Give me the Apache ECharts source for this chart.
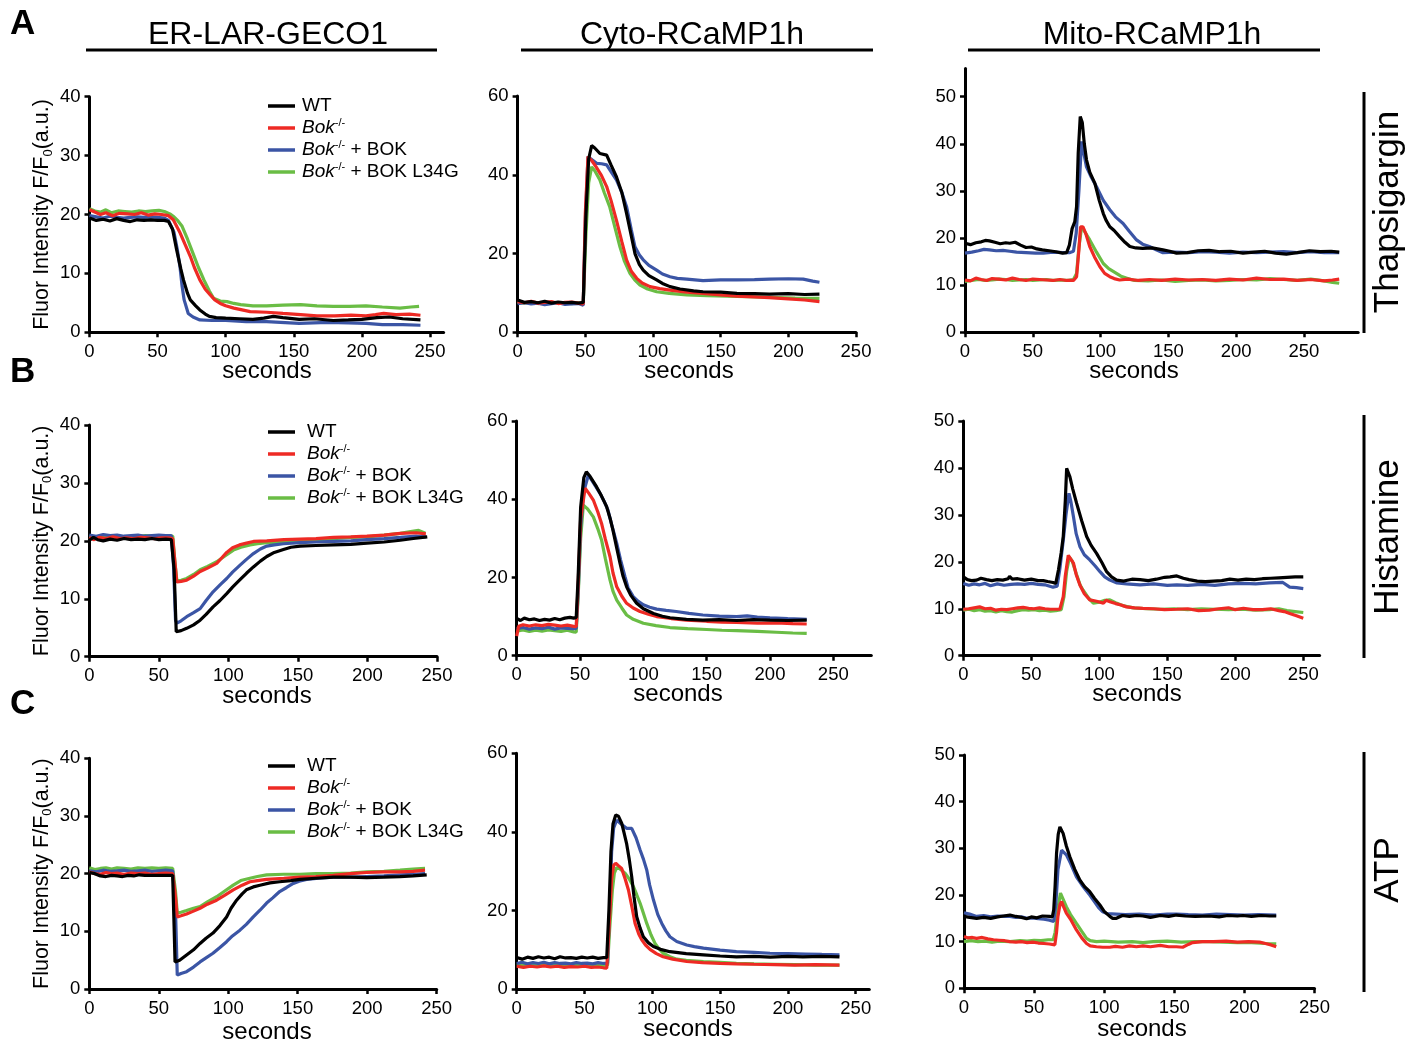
<!DOCTYPE html>
<html><head><meta charset="utf-8">
<script src="https://cdn.jsdelivr.net/npm/echarts@6/dist/echarts.min.js"></script>
<style>html,body{margin:0;padding:0;background:#fff}#c{width:1417px;height:1043px}</style>
</head><body><div id="c"></div>
<script>
// ---------- categories / labels ----------
const seriesNames = ['WT', 'Bok-/-', 'Bok-/- + BOK', 'Bok-/- + BOK L34G'];
const columnTitles = ['ER-LAR-GECO1', 'Cyto-RCaMP1h', 'Mito-RCaMP1h'];
const rowTitles = ['Thapsigargin', 'Histamine', 'ATP'];
const panelLetters = ['A', 'B', 'C'];
const xTicks = [0, 50, 100, 150, 200, 250];
const yTicks40 = [0, 10, 20, 30, 40];
const yTicks60 = [0, 20, 40, 60];
const yTicks50 = [0, 10, 20, 30, 40, 50];

// ---------- A: Thapsigargin ----------
const erTg_WT = [[0,19.4],[5,19.0],[10,19.2],[15,18.9],[20,19.3],[25,19.0],[30,18.8],[35,19.1],[40,19.0],[45,19.1],[50,19.0],[55,19.0],[58,18.8],[61,17.5],[64,14.0],[67,10.8],[69,8.9],[72,6.6],[74,5.5],[78,4.5],[81,3.8],[85,3.1],[88,2.7],[93,2.5],[100,2.4],[110,2.3],[120,2.2],[128,2.4],[135,2.7],[142,2.5],[154,2.2],[165,2.3],[179,2.0],[190,2.1],[200,2.2],[211,2.5],[220,2.6],[230,2.3],[243,2.1]];
const erTg_Bok = [[0,20.8],[3,20.5],[8,20.0],[12,20.3],[17,19.8],[22,20.2],[28,20.1],[33,20.0],[38,20.3],[43,19.9],[48,20.1],[53,20.0],[58,19.8],[61.5,19.1],[64,18.0],[66.5,16.9],[70,15.0],[74,12.9],[77,11.0],[81,8.9],[85,7.3],[88.5,6.4],[92,5.5],[96,4.9],[100,4.5],[106,4.1],[112,3.8],[118,3.5],[130,3.4],[142,3.2],[155,3.0],[167,2.8],[180,2.8],[192,2.9],[203,2.8],[210,3.0],[216,3.2],[225,3.0],[235,3.1],[243,2.9]];
const erTg_BOK = [[0,19.8],[5,19.6],[10,19.4],[15,19.7],[20,19.5],[25,19.4],[30,19.5],[35,19.6],[40,19.5],[45,19.6],[50,19.5],[55,19.4],[58,19.0],[62,17.0],[64.5,14.0],[66.5,11.0],[68,7.8],[69.5,5.5],[72.5,3.2],[76,2.6],[81,2.1],[90,2.0],[100,2.0],[115,1.8],[130,1.8],[154,1.5],[175,1.7],[190,1.6],[203,1.5],[215,1.3],[230,1.3],[243,1.2]];
const erTg_L34G = [[0,21.0],[4,20.6],[8,20.4],[12,20.8],[16,20.3],[21,20.6],[26,20.5],[31,20.4],[36,20.6],[41,20.5],[46,20.6],[51,20.7],[55,20.5],[59,20.1],[62,19.6],[65,18.9],[68,18.0],[72,15.8],[76,13.4],[80,11.0],[84,8.9],[88,7.0],[91,5.8],[96,5.3],[101,5.2],[106,4.9],[111,4.7],[120,4.5],[130,4.5],[142,4.6],[155,4.7],[167,4.5],[179,4.4],[191,4.4],[203,4.5],[215,4.3],[228,4.1],[236,4.3],[242,4.4]];

const cyTg_WT = [[0,8.2],[5,7.6],[10,7.8],[15,7.5],[20,7.9],[25,7.4],[30,7.7],[35,7.5],[40,7.6],[45,7.4],[48.5,7.6],[50.5,30],[52.5,44],[54.7,47.4],[57,46.8],[60.8,45.4],[65.8,45.0],[69,42.5],[73,39.5],[77,35.5],[80.5,30.2],[84,24.5],[86.7,20.0],[90,17.2],[92.8,15.8],[97,14.4],[102.7,13.3],[107,12.4],[112.6,11.6],[120,11.0],[130,10.5],[137,10.3],[150,10.2],[162,9.9],[175,9.8],[186,9.7],[200,9.8],[212,9.6],[223,9.7]];
const cyTg_Bok = [[0,7.8],[5,7.5],[10,7.9],[15,7.4],[20,7.6],[25,7.8],[30,7.3],[35,7.6],[40,7.7],[45,7.4],[48.5,7.2],[50,30],[52,44.6],[55,43.5],[58,42.0],[62,39.8],[65.8,37.0],[69,33.5],[73,28.5],[77,23.0],[80.5,18.4],[84,15.5],[88,13.7],[92,12.5],[97.8,11.6],[105,11.1],[112.6,10.7],[125,10.2],[137,9.9],[150,9.5],[162,9.2],[175,9.0],[186,8.8],[200,8.5],[212,8.2],[223,7.8]];
const cyTg_BOK = [[0,7.3],[5,7.5],[10,7.2],[15,7.4],[20,7.0],[25,7.3],[30,7.5],[35,7.1],[40,7.2],[45,7.3],[48.5,6.9],[50,28],[52,44.6],[55,43.8],[58.4,42.9],[62,42.8],[65.8,42.5],[69,40.8],[73,38.7],[77,35.5],[80.5,31.9],[84,26.0],[86.7,21.7],[90,19.6],[92.8,18.4],[97,17.0],[102.7,15.8],[107,14.8],[112.6,14.1],[118,13.7],[125,13.5],[137,13.1],[150,13.3],[162,13.3],[175,13.4],[186,13.5],[200,13.6],[211,13.5],[218,13.0],[223,12.7]];
const cyTg_L34G = [[0,7.6],[5,7.4],[10,7.7],[15,7.3],[20,7.5],[25,7.6],[30,7.4],[35,7.5],[40,7.3],[45,7.5],[48.5,7.2],[50.5,25],[52.5,38],[54.7,42.0],[57,41.0],[60.8,38.7],[64,35.5],[68,31.9],[72,26.5],[75.6,21.7],[79,18.0],[83,15.0],[86.5,13.3],[90.4,12.0],[96,11.0],[102.7,10.3],[112,9.9],[125,9.5],[140,9.3],[162,9.1],[185,8.9],[205,8.7],[223,8.6]];

const miTg_WT = [[0,18.9],[4,18.6],[8,19.0],[12,19.2],[15,19.5],[18,19.4],[22,19.1],[26,18.8],[30,19.0],[33,18.9],[37,19.1],[41,18.5],[45,18.0],[49,18.1],[53,17.7],[57,17.5],[62,17.3],[67,17.1],[72,16.8],[75,16.9],[77,18.5],[79,22.0],[81,23.5],[82.3,26.7],[83.5,38],[85,45.8],[86.5,44.5],[88,40],[89.6,36.6],[92,34.0],[95.8,31.6],[99,28.0],[102,25.2],[104,23.8],[106.8,22.4],[110,21.6],[114,20.3],[118,19.1],[121.6,18.2],[126,17.9],[131,17.8],[138,17.9],[146,17.5],[151,17.2],[156,16.8],[164,16.9],[172,17.3],[180,17.4],[188,17.1],[196,17.2],[205,16.8],[213,17.0],[221,17.2],[229,16.8],[237,16.6],[245,16.9],[254,17.3],[262,17.1],[270,17.2],[276,17.0]];
const miTg_Bok = [[0,11.1],[4,10.9],[8,11.5],[12,11.2],[16,11.0],[20,11.4],[25,11.3],[30,11.1],[35,11.5],[40,11.2],[45,11.0],[50,11.3],[55,11.2],[60,11.1],[65,11.0],[70,11.2],[75,11.0],[80,11.0],[82.3,11.8],[84,17.5],[85.2,22.4],[87,22.4],[89,21.0],[92,18.2],[95.5,16.0],[99.5,13.9],[103,12.5],[106.8,11.8],[110,11.4],[114,11.1],[120,11.3],[128,11.0],[136,11.2],[145,11.0],[155,11.3],[165,11.1],[175,11.2],[185,11.0],[195,11.3],[205,11.1],[215,11.5],[225,11.2],[235,11.3],[245,11.0],[255,11.2],[265,10.9],[271,11.1],[276,11.3]];
const miTg_BOK = [[0,16.8],[5,17.0],[10,17.3],[14,17.6],[18,17.5],[23,17.3],[28,17.4],[33,17.2],[38,17.0],[45,16.9],[52,16.8],[57.7,16.8],[65,17.0],[72,16.9],[77,16.9],[80,17.2],[82,21.0],[84,30],[86,40.5],[88,37.5],[89.6,35.1],[93,33.0],[97,30.9],[102,28.0],[106.8,26.0],[111,24.5],[116.6,23.1],[121,21.5],[126.5,19.6],[131,18.7],[136,18.2],[141,17.5],[146,16.9],[155,17.0],[165,16.9],[175,17.1],[185,17.0],[195,16.8],[205,17.0],[215,16.9],[225,17.0],[235,17.1],[245,16.9],[255,17.1],[265,16.9],[276,16.9]];
const miTg_L34G = [[0,10.8],[5,11.0],[10,11.2],[15,11.0],[20,11.1],[25,11.3],[30,11.2],[35,11.0],[40,11.1],[45,11.2],[50,11.0],[55,11.1],[60,11.2],[65,11.0],[70,11.1],[75,11.0],[80,11.2],[82.3,12.5],[84,18.0],[86,22.4],[88,21.5],[92,19.6],[97,17.0],[102,14.6],[106,13.5],[111.7,12.5],[115,11.9],[119,11.5],[125,11.0],[135,10.9],[145,11.1],[155,10.8],[165,11.0],[175,11.1],[185,10.9],[195,11.0],[205,11.2],[215,11.1],[225,11.4],[235,11.2],[245,11.0],[255,11.3],[265,10.9],[271,10.6],[276,10.4]];

// ---------- B: Histamine ----------
const erHi_WT = [[0,20.1],[3,20.6],[6,20.2],[10,20.0],[15,20.3],[20,20.1],[25,20.4],[30,20.2],[35,20.3],[40,20.2],[45,20.4],[50,20.2],[55,20.3],[59,20.2],[61,15.0],[62.5,4.3],[66,4.5],[70,4.9],[75,5.5],[79.7,6.3],[84,7.3],[89,8.6],[94,9.7],[98.8,10.9],[103,12.0],[108,13.2],[113,14.4],[118,15.5],[123,16.5],[127.6,17.3],[133,18.0],[139.6,18.5],[145,18.9],[151.6,19.1],[163,19.2],[175.6,19.3],[188,19.4],[199.6,19.6],[212,19.8],[223.6,20.1],[233,20.4],[243,20.7]];
const erHi_Bok = [[0,20.6],[3,20.2],[7,20.6],[12,20.4],[17,20.7],[22,20.4],[27,20.5],[32,20.4],[37,20.6],[42,20.5],[47,20.4],[52,20.5],[57,20.5],[60,20.4],[61.5,16.5],[62.9,12.9],[66,13.0],[70,13.2],[75,13.9],[79.7,14.7],[85,15.3],[91.6,16.1],[95,17.0],[98.8,18.0],[103,18.8],[108,19.3],[113,19.6],[118,19.9],[127.6,20.0],[140,20.2],[151.6,20.3],[163,20.4],[175.6,20.6],[188,20.7],[199.6,20.8],[212,21.0],[223.6,21.3],[235,21.4],[242,21.2]];
const erHi_BOK = [[0,21.0],[5,20.8],[10,21.1],[15,20.9],[20,21.0],[25,20.8],[30,20.9],[35,21.0],[40,20.8],[45,20.9],[50,21.0],[55,20.9],[59,20.9],[60.5,16.0],[62,6.3],[63,5.8],[66,6.2],[70,6.9],[75,7.6],[79.7,8.3],[84,9.7],[89,11.2],[94,12.4],[98.8,13.5],[103,14.6],[108.4,15.8],[113,16.8],[118,17.8],[123,18.6],[127.6,19.1],[133,19.3],[139.6,19.5],[151.6,19.7],[163,19.8],[175.6,19.9],[188,20.0],[199.6,20.2],[212,20.4],[223.6,20.6],[235,20.8],[242,20.7]];
const erHi_L34G = [[0,20.8],[5,20.6],[10,20.9],[15,20.7],[20,20.8],[25,20.6],[30,20.8],[35,20.7],[40,20.9],[45,20.8],[50,20.7],[55,20.8],[60,20.8],[61.5,16.5],[63,13.0],[66,13.2],[70,13.5],[75,14.2],[79.7,15.0],[85,15.6],[91.6,16.4],[97,17.3],[103.6,18.4],[109,18.9],[115.6,19.3],[121,19.5],[127.6,19.7],[140,19.8],[151.6,19.9],[163,20.1],[175.6,20.4],[188,20.6],[199.6,20.7],[212,21.0],[223.6,21.3],[231,21.6],[236.8,21.8],[241.6,21.3]];

const cyHi_WT = [[0,9.5],[3,9.0],[6,9.6],[10,9.2],[14,9.4],[18,9.0],[22,9.3],[26,9.1],[30,9.5],[34,9.2],[38,9.6],[42,9.8],[45,9.6],[47,9.8],[48.5,20],[50.5,38],[53,45.5],[55,47.0],[58,45.8],[63,43.2],[67,40.8],[71,38.1],[74,34.8],[76,32.1],[79,27.5],[81.6,23.6],[84,20.3],[86.8,17.6],[90,15.5],[94.7,13.4],[100,12.0],[108,10.8],[115,10.1],[121,9.7],[134,9.3],[147,9.1],[160,9.2],[173.7,9.0],[187,9.2],[200,9.1],[214,9.0],[229,9.1]];
const cyHi_Bok = [[0,5.0],[1.5,7.5],[5,7.9],[10,7.6],[15,7.9],[20,7.7],[25,8.0],[30,7.8],[35,7.6],[40,7.8],[45,7.5],[47,7.4],[48.5,18],[50.5,35],[54,42.8],[57,41.5],[60.5,39.8],[64,36.8],[67,33.8],[70,29.8],[73.7,25.3],[76,21.2],[79,17.6],[83,15.2],[86.8,13.4],[92,12.2],[97.4,11.3],[104,10.6],[110.5,10.0],[122,9.5],[134,9.1],[150,8.8],[162,8.6],[173.7,8.5],[190,8.3],[205,8.4],[218,8.2],[229,8.1]];
const cyHi_BOK = [[0,6.9],[5,7.2],[10,6.8],[15,7.1],[20,6.9],[25,7.3],[30,6.8],[35,7.1],[40,7.0],[45,6.9],[47,7.0],[48.5,16],[50.5,33],[53,42],[56.6,46.2],[60,44.5],[65.8,41.5],[69,39.5],[72,37.3],[75,33.5],[79,28.7],[82,24.5],[85.5,20.2],[88,17.3],[92,15.1],[96,13.9],[100,13.0],[105,12.4],[110.5,11.9],[118,11.6],[126,11.3],[136,10.8],[147,10.4],[160,10.1],[173.7,10.0],[182,10.2],[190,9.9],[200,9.7],[214,9.5],[229,9.3]];
const cyHi_L34G = [[0,6.3],[5,6.6],[10,6.2],[15,6.5],[20,6.3],[25,6.6],[30,6.4],[35,6.2],[40,6.5],[45,6.1],[47,6.0],[48.5,15],[50.5,30],[52.6,38.5],[56,37.5],[60.5,35.5],[64,32.5],[67,29.6],[70,24.8],[73.7,19.3],[76,16.5],[79,14.2],[83,12.2],[86.8,10.4],[92,9.3],[100,8.3],[110,7.7],[121,7.2],[135,6.9],[150,6.7],[162,6.5],[173.7,6.4],[190,6.2],[205,6.0],[218,5.8],[229,5.7]];

const miHi_WT = [[0,16.8],[3,16.2],[6,16.0],[9.8,16.1],[13,16.5],[17,16.2],[21,16.0],[25,16.2],[29,16.1],[33,16.4],[34,16.9],[36,16.3],[40,16.4],[45,16.1],[50,16.3],[55,16.0],[58.8,16.0],[62,15.8],[66,15.6],[68,15.4],[70,18.3],[72,22.0],[73.5,25.4],[75,33],[76,39.9],[77,40.3],[78.4,38.1],[80.5,35.5],[83.3,32.5],[87,28.8],[90.7,25.4],[94,23.5],[98,21.8],[102,19.8],[105.4,17.9],[109,16.8],[112.7,16.1],[118,15.9],[124,16.3],[130,16.2],[136,16.0],[142,16.3],[148,16.7],[152,16.8],[157,17.0],[161.8,16.5],[166,16.2],[172,15.9],[178,15.8],[184,15.9],[190,16.0],[196,16.3],[202,16.1],[208,16.3],[214,16.2],[220,16.4],[226,16.5],[232,16.6],[238,16.7],[244,16.8],[250,16.8]];
const miHi_Bok = [[0,9.9],[4,10.0],[8,10.2],[12,10.4],[16,10.0],[20,10.1],[24,9.7],[28,9.9],[32,9.8],[36,10.0],[40,10.2],[44,10.3],[48,10.1],[52,10.0],[56,10.2],[60,10.0],[64,9.9],[68,9.9],[71,9.9],[73.5,12.6],[75,17],[77.2,21.4],[78.5,21.5],[81,19.7],[83,17.3],[85.8,15.0],[89,13.2],[93,11.9],[98,11.6],[103,11.2],[105,11.8],[107.8,11.5],[112,11.1],[116,10.8],[120,10.4],[126,10.2],[132,10.1],[140,10.0],[148,9.8],[157,9.9],[165,10.0],[173,9.6],[181,9.7],[188,10.0],[195,10.2],[200,9.8],[206,10.1],[213,9.8],[220,9.8],[226,10.0],[232,9.6],[236,9.4],[240,9.0],[245,8.5],[250,8.0]];
const miHi_BOK = [[0,15.4],[4,15.0],[8,15.3],[12,15.1],[16,15.4],[20,14.9],[25,15.3],[30,15.0],[35,15.2],[40,15.3],[45,15.2],[50,15.4],[55,15.2],[60,15.1],[66,14.6],[69,14.8],[71,18.5],[73.5,24.6],[75.5,30.0],[77.7,34.6],[79,33.0],[81,29.6],[83,26.0],[85.8,23.2],[89,21.5],[93,20.4],[97,19.1],[100.5,17.9],[104,16.8],[107.8,16.1],[113,15.5],[120,15.3],[130,15.1],[140,15.3],[150,15.0],[157,15.1],[165,15.0],[175,15.2],[185,15.0],[195,15.3],[206,15.4],[215,15.3],[225,15.5],[235,15.6],[240,14.6],[245,14.5],[250,14.3]];
const miHi_L34G = [[0,9.7],[4,9.9],[8,9.6],[12,9.8],[16,9.5],[20,9.6],[24,9.3],[28,9.6],[32,9.4],[36,9.3],[40,9.6],[44,9.8],[48,9.7],[52,9.8],[56,9.6],[60,9.7],[64,9.5],[68,9.6],[72,9.8],[74,12.5],[76,18],[78,21.0],[80,20.2],[83,17.5],[86,15.0],[88,14.0],[92,12.3],[95.6,11.2],[100,11.4],[104,11.8],[107.8,11.9],[112,11.3],[118,10.6],[125,10.2],[135,10.0],[145,9.9],[155,10.0],[165,9.8],[175,10.0],[185,9.9],[195,9.8],[205,9.9],[215,9.7],[225,9.8],[232,10.0],[238,9.6],[244,9.4],[250,9.2]];

// ---------- C: ATP ----------
const erAt_WT = [[0,20.2],[4,20.0],[8,19.6],[12,19.5],[16,19.7],[20,19.6],[24,19.5],[28,19.7],[32,19.6],[36,19.8],[40,19.7],[45,19.7],[50,19.7],[55,19.7],[60,19.7],[61,11.0],[61.7,4.7],[65,5.0],[70,5.9],[75,6.8],[79.7,7.9],[84,8.8],[89,9.7],[94,11.0],[98.8,12.5],[102,14.0],[106,15.4],[110,16.5],[113,17.2],[118,17.7],[122.8,18.0],[130,18.4],[137,18.6],[145,18.8],[151.6,19.0],[163,19.2],[175.6,19.4],[188,19.4],[199.6,19.3],[212,19.4],[223.6,19.5],[233,19.6],[242.8,19.8]];
const erAt_Bok = [[0,20.3],[4,20.0],[8,19.9],[12,20.2],[16,20.0],[20,20.1],[25,19.9],[30,20.1],[35,20.0],[40,20.1],[45,19.9],[50,20.0],[55,20.1],[60,20.0],[62,16.0],[63.3,12.5],[66,12.7],[70,13.0],[75,13.5],[79.7,14.0],[85,14.7],[91.6,15.4],[97,16.2],[103.6,17.2],[110,18.0],[115.6,18.6],[121,18.8],[127.6,19.0],[140,19.2],[151.6,19.4],[163,19.5],[175.6,19.7],[188,20.0],[199.6,20.2],[212,20.3],[223.6,20.3],[233,20.4],[241.6,20.6]];
const erAt_BOK = [[0,20.5],[5,20.3],[10,20.6],[15,20.4],[20,20.5],[25,20.6],[30,20.4],[35,20.5],[40,20.6],[45,20.4],[50,20.5],[55,20.6],[60,20.5],[62,14.0],[63.3,2.4],[66,2.7],[70,3.0],[75,3.8],[79.7,4.7],[84,5.4],[89,6.2],[94,7.2],[98.8,8.2],[103,9.2],[108.4,10.2],[113,11.2],[118,12.5],[123,13.7],[127.6,14.9],[132,15.8],[137,16.9],[142,17.6],[146.8,18.3],[151,18.7],[156.4,19.0],[165,19.2],[175.6,19.4],[188,19.4],[199.6,19.5],[212,19.6],[223.6,19.8],[233,19.9],[241.6,20.0]];
const erAt_L34G = [[0,21.0],[4,20.7],[8,20.9],[12,21.0],[16,20.8],[20,21.0],[25,20.9],[30,20.8],[35,21.0],[40,20.9],[45,21.0],[50,20.9],[55,21.0],[60,20.9],[62,17.0],[63.3,13.2],[66,13.3],[70,13.6],[75,14.0],[79.7,14.3],[85,15.1],[91.6,16.0],[97,16.9],[103.6,18.0],[109,18.8],[115.6,19.2],[121,19.5],[127.6,19.8],[140,19.9],[151.6,19.9],[163,20.0],[175.6,20.0],[188,20.1],[199.6,20.3],[212,20.4],[223.6,20.6],[233,20.8],[241.6,20.9]];

const cyAt_WT = [[0,8.0],[4,7.6],[8,8.1],[12,7.8],[16,8.2],[20,7.9],[24,8.1],[28,7.7],[32,8.2],[36,7.9],[40,8.0],[44,7.8],[48,8.1],[52,7.9],[56,8.1],[60,7.8],[64,8.0],[66.4,8.0],[68,20],[69.5,35],[71,42],[73,44.3],[75,44.0],[77.4,42.2],[79,40.0],[81,37.1],[83,33.0],[84.8,28.6],[86.5,23.5],[88.5,18.4],[91,15.5],[93.4,13.3],[97,11.8],[100.8,10.8],[106,10.1],[113,9.5],[125,9.0],[137.7,8.7],[150,8.4],[162,8.2],[175,8.3],[187,8.1],[200,8.3],[211,8.2],[225,8.3],[238,8.2]];
const cyAt_Bok = [[0,5.8],[5,5.5],[10,5.8],[15,5.6],[20,5.9],[25,5.6],[30,5.8],[35,5.5],[40,5.7],[45,5.6],[50,5.8],[55,5.5],[60,5.6],[64,5.4],[66.4,5.3],[68,15],[70,28],[71.5,31.5],[73,32.0],[75,31.4],[77.4,30.7],[80,28.0],[82.4,25.2],[85,20.8],[87.3,16.7],[90,14.0],[92.2,12.5],[95,11.2],[98.3,10.1],[103,9.0],[108,8.2],[115,7.6],[125.4,7.0],[137,6.7],[150,6.5],[162,6.4],[175,6.3],[190,6.2],[205,6.1],[220,6.2],[238,6.1]];
const cyAt_BOK = [[0,6.5],[4,6.8],[8,6.4],[12,6.7],[16,6.5],[20,6.8],[24,6.4],[28,6.7],[32,6.5],[36,6.6],[40,6.4],[44,6.7],[48,6.5],[52,6.6],[56,6.4],[60,6.7],[64,6.5],[67,6.6],[68.5,20],[70,35],[71.5,41],[73.7,43.0],[77,42.0],[81,40.9],[84.8,40.9],[88,38.5],[91,35.4],[93.5,33.0],[95.9,30.3],[98,26.5],[100.8,22.7],[104,19.0],[107,16.7],[110,14.8],[113,13.3],[118,12.1],[125.4,11.2],[131,10.8],[137.7,10.4],[150,9.9],[162,9.5],[175,9.3],[186.8,9.1],[200,9.0],[213,8.9],[225,8.8],[238,8.7]];
const cyAt_L34G = [[0,6.1],[5,6.3],[10,6.0],[15,6.2],[20,6.0],[25,6.3],[30,6.1],[35,6.2],[40,6.0],[45,6.2],[50,6.1],[55,6.0],[60,6.2],[64,6.0],[67,6.1],[68.5,15],[70.5,25],[72,29.5],[73.7,30.9],[76,30.6],[79.9,29.5],[83,28.0],[86,26.1],[88.5,24.0],[91,21.8],[93.5,19.2],[95.9,16.7],[99,13.8],[102,11.6],[105,10.2],[108,9.1],[113,8.2],[118,7.6],[125,7.3],[137.7,7.0],[150,6.8],[162,6.5],[175,6.4],[190,6.3],[205,6.2],[220,6.1],[238,6.1]];

const miAt_WT = [[0,15.4],[4,15.2],[9,15.0],[14,15.2],[19,15.0],[24,15.3],[28,15.5],[32.8,15.7],[37,15.4],[41,15.2],[44.6,14.9],[48,15.3],[52,15.1],[56,15.5],[61,15.4],[63,15.3],[64,16.8],[65,22],[66,28.9],[67.2,33],[68.4,34.6],[70.7,33.2],[73,30.5],[75.5,28.2],[79,25.5],[82.6,23.2],[86,21.8],[89.7,20.7],[93,19.3],[96.8,17.9],[100,16.5],[104,15.4],[106,15.0],[108.7,15.0],[113,15.6],[118,15.4],[123,15.6],[127.7,15.5],[133,15.2],[140,15.6],[146,15.4],[151.5,15.7],[158,15.5],[165,15.4],[175,15.5],[182,15.3],[188,15.6],[195,15.5],[199,15.6],[205,15.4],[212,15.6],[218,15.5],[222.7,15.5]];
const miAt_Bok = [[0,11.1],[3,10.8],[6,10.9],[9,10.7],[13,10.9],[17,10.6],[21,10.4],[25,10.3],[29,10.2],[32.8,10.0],[37,9.9],[41,10.0],[45,9.8],[49,9.9],[53,9.7],[57,9.6],[61,9.5],[64.8,9.3],[66,12],[67,15.4],[68.5,18.0],[69.6,18.6],[71,17.5],[73,16.1],[76,14.8],[80.2,12.5],[84,10.8],[87.4,9.6],[90,9.1],[94.5,8.9],[99,8.8],[104,8.8],[108,9.0],[113,8.8],[118,9.1],[123,8.9],[127.7,9.1],[133,8.9],[140,9.2],[146,8.9],[151.5,8.9],[156,8.8],[160,9.4],[163,9.8],[170,10.0],[178,10.0],[187,10.1],[195,9.9],[203,10.0],[210.8,9.9],[215,9.6],[219,9.3],[222.7,8.9]];
const miAt_BOK = [[0,16.2],[4,15.9],[9,15.4],[14,15.6],[19,15.3],[24,15.5],[28,15.4],[32.8,15.4],[37,15.2],[41,15.3],[45,15.0],[49,15.1],[53,14.9],[57,14.8],[61,14.6],[64,14.3],[65.5,18],[67,25.4],[69.6,29.6],[71,29.3],[73,28.6],[76,26.8],[80.2,23.9],[84,22.2],[87,21.0],[89.7,20.0],[93,18.6],[96,17.3],[99,16.4],[102,16.0],[108.7,15.9],[115,15.8],[125,15.9],[135,15.7],[145,15.9],[151.5,15.9],[160,15.8],[170,15.7],[180,15.9],[190,15.8],[200,15.7],[210,15.8],[222.7,15.7]];
const miAt_L34G = [[0,10.0],[5,10.2],[10,10.0],[15,10.1],[20,9.9],[25,10.1],[32.8,10.0],[40,10.2],[45,10.1],[50,10.3],[55,10.2],[60,10.4],[63.6,10.4],[65,12],[66,14.6],[67.5,18],[68.8,20.4],[70,20.0],[73,17.5],[76,15.8],[80.2,13.9],[84,12.2],[87.4,10.7],[90,10.2],[94.5,10.0],[100,10.1],[110,9.9],[120,10.0],[127.7,9.8],[135,10.0],[145,10.1],[155,9.9],[165,10.0],[175,10.0],[185,9.9],[195,9.8],[205,9.8],[215,9.6],[222.7,9.5]];

// ---------- styling / layout ----------
const FONT = '"Liberation Sans", Arial, Helvetica, sans-serif';
const colors = {'WT': '#000000', 'Bok-/-': '#ee2a24', 'Bok-/- + BOK': '#3b55a5', 'Bok-/- + BOK L34G': '#6abd45'};
const drawOrder = [3, 2, 1, 0]; // L34G, BOK, Bok, WT (WT on top)

const panels = [
  {left: 89.5, top: 96.7, width: 354.1, height: 235.6, xMax: 260, yMax: 40, yTicks: yTicks40, yInt: 10, data: [erTg_WT, erTg_Bok, erTg_BOK, erTg_L34G], yName: true, sec: [267, 371]},
  {left: 517.6, top: 96.0, width: 338.4, height: 236.3, xMax: 250, yMax: 60, yTicks: yTicks60, yInt: 20, data: [cyTg_WT, cyTg_Bok, cyTg_BOK, cyTg_L34G], sec: [689, 371]},
  {left: 965, top: 68.4, width: 393.2, height: 263.9, xMax: 290, yMax: 56, yTicks: yTicks50, yInt: 10, data: [miTg_WT, miTg_Bok, miTg_BOK, miTg_L34G], sec: [1134, 371]},
  {left: 89.3, top: 425, width: 347.7, height: 231.7, xMax: 250, yMax: 40, yTicks: yTicks40, yInt: 10, data: [erHi_WT, erHi_Bok, erHi_BOK, erHi_L34G], yName: true, sec: [267, 696]},
  {left: 516.7, top: 421, width: 354.6, height: 234.7, xMax: 280, yMax: 60, yTicks: yTicks60, yInt: 20, data: [cyHi_WT, cyHi_Bok, cyHi_BOK, cyHi_L34G], sec: [678, 694]},
  {left: 963.3, top: 421, width: 356.3, height: 234.7, xMax: 262, yMax: 50, yTicks: yTicks50, yInt: 10, data: [miHi_WT, miHi_Bok, miHi_BOK, miHi_L34G], sec: [1137, 694]},
  {left: 89.3, top: 758.3, width: 347.4, height: 230.7, xMax: 250, yMax: 40, yTicks: yTicks40, yInt: 10, data: [erAt_WT, erAt_Bok, erAt_BOK, erAt_L34G], yName: true, sec: [267, 1032]},
  {left: 516.7, top: 753.3, width: 352.6, height: 235.7, xMax: 260, yMax: 60, yTicks: yTicks60, yInt: 20, data: [cyAt_WT, cyAt_Bok, cyAt_BOK, cyAt_L34G], sec: [688, 1029]},
  {left: 964, top: 755, width: 350.5, height: 233.3, xMax: 250, yMax: 50, yTicks: yTicks50, yInt: 10, data: [miAt_WT, miAt_Bok, miAt_BOK, miAt_L34G], sec: [1142, 1029]}
];

const axisLineStyle = {show: true, onZero: false, lineStyle: {color: '#000', width: 3}};
const labelStyle = {fontSize: 18.5, color: '#000', fontFamily: FONT};

const grids = [], xAxes = [], yAxes = [], series = [], graphics = [];
panels.forEach((p, i) => {
  grids.push({left: p.left, top: p.top, width: p.width, height: p.height, containLabel: false, outerBoundsMode: 'none'});
  xAxes.push({
    type: 'value', gridIndex: i, min: 0, max: p.xMax, interval: 50,
    axisLine: axisLineStyle,
    axisTick: {show: true, length: 5, lineStyle: {color: '#000', width: 2.5}, customValues: xTicks},
    axisLabel: Object.assign({margin: 10, customValues: xTicks}, labelStyle),
    splitLine: {show: false}
  });
  const y = {
    type: 'value', gridIndex: i, min: 0, max: p.yMax, interval: p.yInt,
    axisLine: axisLineStyle,
    axisTick: {show: true, length: 5, lineStyle: {color: '#000', width: 2.5}, customValues: p.yTicks},
    axisLabel: Object.assign({margin: 9, customValues: p.yTicks}, labelStyle),
    splitLine: {show: false}
  };
  if (p.yName) {
    Object.assign(y, {
      name: 'Fluor Intensity F/F{sub|0}(a.u.)', nameLocation: 'middle', nameGap: 35, nameMoveOverlap: false,
      nameTextStyle: {fontSize: 21.5, color: '#000', fontFamily: FONT, lineHeight: 24,
        rich: {sub: {fontSize: 13, fontFamily: FONT, color: '#000', verticalAlign: 'bottom', lineHeight: 14}}}
    });
  }
  yAxes.push(y);
  drawOrder.forEach(k => {
    const nm = seriesNames[k];
    series.push({
      type: 'line', name: nm, xAxisIndex: i, yAxisIndex: i, data: p.data[k],
      showSymbol: false, symbol: 'none', color: colors[nm],
      lineStyle: {width: 3.2, color: colors[nm]}, animation: false, silent: true
    });
  });
  graphics.push({type: 'text', x: p.sec[0], y: p.sec[1],
    style: {text: 'seconds', fontSize: 24, fontFamily: FONT, fill: '#000', align: 'center', verticalAlign: 'middle'}});
});

// column headers and lines
const headerX = [268, 692, 1152];
const headerLines = [[86, 437], [521, 873], [968, 1320]];
columnTitles.forEach((t, i) => {
  graphics.push({type: 'text', x: headerX[i], y: 35,
    style: {text: t, fontSize: 32, fontFamily: FONT, fill: '#000', align: 'center', verticalAlign: 'middle'}});
  graphics.push({type: 'line', shape: {x1: headerLines[i][0], y1: 50, x2: headerLines[i][1], y2: 50},
    style: {stroke: '#000', lineWidth: 3}});
});
// panel letters
const letterY = [24, 372, 704];
panelLetters.forEach((t, i) => {
  graphics.push({type: 'text', x: 10, y: letterY[i],
    style: {text: t, fontSize: 35, fontWeight: 'bold', fontFamily: FONT, fill: '#000', align: 'left', verticalAlign: 'middle'}});
});
// row labels on the right
const rowLines = [[92, 333], [415, 658], [752, 992]];
const rowTextY = [212, 537, 870];
rowTitles.forEach((t, i) => {
  graphics.push({type: 'line', shape: {x1: 1364, y1: rowLines[i][0], x2: 1364, y2: rowLines[i][1]},
    style: {stroke: '#000', lineWidth: 3}});
  graphics.push({type: 'text', x: 1388, y: rowTextY[i], rotation: Math.PI / 2,
    style: {text: t, fontSize: 35, fontFamily: FONT, fill: '#000', align: 'center', verticalAlign: 'middle'}});
});

// legends (one per row, left column)
function legendFmt(name) {
  if (name === 'WT') return 'WT';
  const rest = name.slice(6);
  return '{it|Bok}{sup|-/-}' + (rest ? '{n|' + rest + '}' : '');
}
const legendRich = {
  it: {fontStyle: 'italic', fontSize: 19, fontFamily: FONT, color: '#000', lineHeight: 22},
  sup: {fontSize: 11, fontFamily: FONT, color: '#000', verticalAlign: 'top', lineHeight: 13},
  n: {fontSize: 19, fontFamily: FONT, color: '#000', lineHeight: 22}
};
const legendTops = [95, 421, 755];
const legendPad = [2, 7, 7];
const legends = legendTops.map((t, i) => ({
  orient: 'vertical', left: 268, top: t, padding: 0, itemGap: 0,
  itemWidth: 27, itemHeight: 3.5, icon: 'rect', selectedMode: false,
  data: seriesNames, formatter: legendFmt,
  textStyle: {fontSize: 19, color: '#000', fontFamily: FONT, lineHeight: 22, padding: [0, 0, 0, legendPad[i]], rich: legendRich}
}));

const chart = echarts.init(document.getElementById('c'), null, {renderer: 'canvas'});
chart.setOption({
  backgroundColor: '#fff',
  animation: false,
  textStyle: {fontFamily: FONT},
  grid: grids, xAxis: xAxes, yAxis: yAxes, series: series,
  legend: legends,
  graphic: graphics
});
</script></body></html>
